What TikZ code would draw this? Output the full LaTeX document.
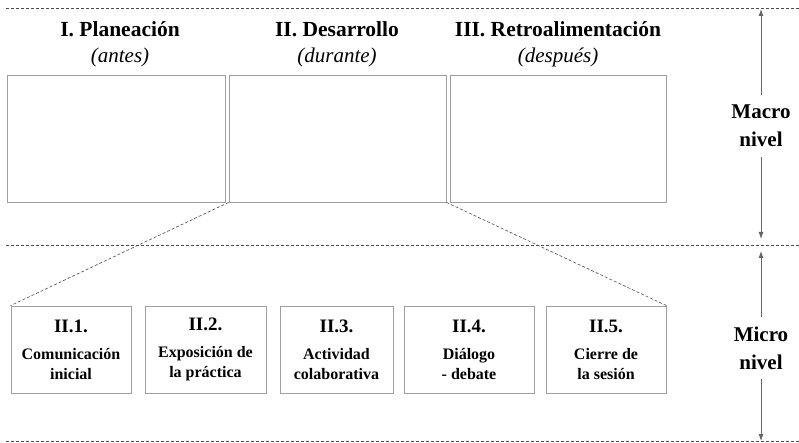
\documentclass[tikz,border=0pt]{standalone}
\usepackage{fontspec}
\setmainfont{Liberation Serif}
\usetikzlibrary{arrows.meta}
\begin{document}
\begin{tikzpicture}[x=1pt,y=-1pt,
		caja/.style={draw=gray!75, line width=0.8pt, inner sep=0pt},
		guia/.style={draw=black!70, line width=0.6pt, dash pattern=on 3pt off 2pt},
		nivel/.style={font=\bfseries\fontsize{21}{28}\selectfont, align=center, minimum height=62pt, inner sep=0pt},
		flecha/.style={draw=black!60, line width=0.8pt, -{Latex[length=7pt,width=5pt]}}]
	\useasboundingbox (0,0) rectangle (799,443);
	% lineas de corte
	\foreach \y in {8,245,441}
	\draw [guia] (6,\y) -- (799,\y);
	% macro nivel
	\node [caja, minimum width=218pt, minimum height=127pt] (fase1) at (116,138.5) {};
	\node [caja, minimum width=217pt, minimum height=127pt] (fase2) at (337.5,138.5) {};
	\node [caja, minimum width=216pt, minimum height=127pt] (fase3) at (558,138.5) {};
	\foreach \n/\x/\t/\s in {1/120/I. Planeación/antes, 2/337/II. Desarrollo/durante, 3/558/III. Retroalimentación/después}
	{
		\node [anchor=base, font=\bfseries\fontsize{21.5}{26}\selectfont] (titulo\n) at (\x,37) {\t};
		\node [anchor=base, font=\itshape\fontsize{21}{26}\selectfont] (sub\n) at (\x,63) {(\s)};
	}
	% micro nivel
	\tikzset{paso/.style={caja, minimum height=87pt, align=center, font=\bfseries\fontsize{16}{20}\selectfont}}
	\newcommand{\num}[1]{{\fontsize{19}{20}\selectfont #1}}
	\node [paso, minimum width=120pt] (paso1) at (71,349.5) {\num{II.1.}\\[7pt]Comunicación\\inicial};
	\node [paso, minimum width=121pt] (paso2) at (205.5,349.5) {\num{II.2.}\\[7pt]Exposición de\\la práctica};
	\node [paso, minimum width=113pt] (paso3) at (336.5,349.5) {\num{II.3.}\\[7pt]Actividad\\colaborativa};
	\node [paso, minimum width=130pt] (paso4) at (469,349.5) {\num{II.4.}\\[7pt]Diálogo\\- debate};
	\node [paso, minimum width=120pt] (paso5) at (606,349.5) {\num{II.5.}\\[7pt]Cierre de\\la sesión};
	\draw [guia] (fase2.south west) -- (paso1.north west);
	\draw [guia] (fase2.south east) -- (paso5.north east);
	% niveles
	\node [nivel] (macro) at (761,126) {Macro\\nivel};
	\node [nivel] (micro) at (761,348) {Micro\\nivel};
	\coordinate (macroarr) at (761,9);
	\coordinate (macroaba) at (761,239);
	\coordinate (microarr) at (761,251);
	\coordinate (microaba) at (761,441);
	\draw [flecha] (macro.north) -- (macroarr);
	\draw [flecha] (macro.south) -- (macroaba);
	\draw [flecha] (micro.north) -- (microarr);
	\draw [flecha] (micro.south) -- (microaba);
\end{tikzpicture}
\end{document}
